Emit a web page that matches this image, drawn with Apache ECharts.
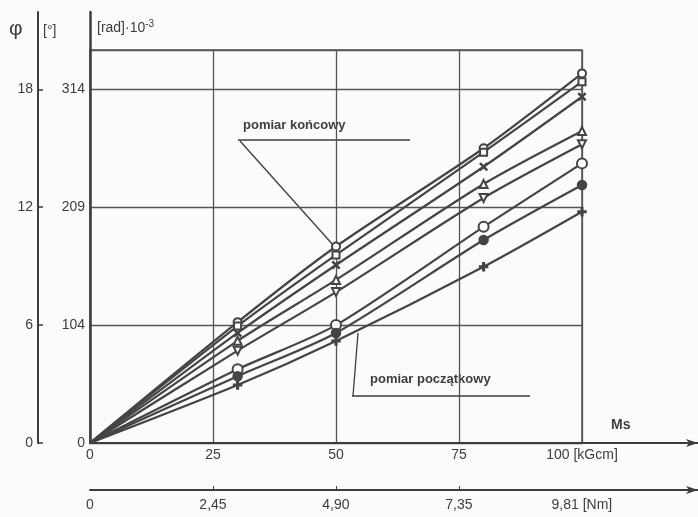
<!DOCTYPE html>
<html>
<head>
<meta charset="utf-8">
<title>pomiar</title>
<script src="https://cdn.jsdelivr.net/npm/echarts@6/dist/echarts.min.js"></script>
<style>
  html, body { margin: 0; padding: 0; background: #fbfbfa; }
  #chart { width: 698px; height: 517px; }
</style>
</head>
<body>
<div id="chart"></div>
<script>
// moment Ms [kGcm] at the measured points
const momentX = [0, 30, 50, 80, 100]

// angle φ [°] for each curve, top to bottom
const curve1 = [0, 6.15, 10.0, 15.0, 18.81]
const curve2 = [0, 5.95, 9.57, 14.8, 18.39]
const curve3 = [0, 5.6, 9.06, 14.06, 17.62]
const curve4 = [0, 5.2, 8.3, 13.18, 15.88]
const curve5 = [0, 4.7, 7.68, 12.47, 15.2]
const curve6 = [0, 3.75, 6.0, 11.0, 14.23]
const curve7 = [0, 3.4, 5.6, 10.33, 13.13]
const curve8 = [0, 2.95, 5.19, 8.97, 11.77]

// tick labels
const xTicks = [0, 25, 50, 75, 100]
const xLabels = ['0', '25', '50', '75', '100 [kGcm]']
const nmLabels = ['0', '2,45', '4,90', '7,35', '9,81 [Nm]']
const degTicks = [0, 6, 12, 18]
const degLabels = ['0', '6', '12', '18']
const radLabels = ['0', '104', '209', '314']

const ink = '#3d3d3d'
const font = 'Liberation Sans'

const xSym = 'path://M1,0L5,4L9,0L10,1L6,5L10,9L9,10L5,6L1,10L0,9L4,5L0,1Z'
const plusSym = 'path://M4,0H6V4H10V6H6V10H4V6H0V4H4Z'

const curves = [
  { data: curve1, symbol: 'emptyCircle', size: 8 },
  { data: curve2, symbol: 'emptyRect', size: 7 },
  { data: curve3, symbol: xSym, size: 7 },
  { data: curve4, symbol: 'emptyTriangle', size: 8 },
  { data: curve5, symbol: 'emptyTriangle', size: 8, rotate: 180 },
  { data: curve6, symbol: 'emptyCircle', size: 10 },
  { data: curve7, symbol: 'circle', size: 9 },
  { data: curve8, symbol: plusSym, size: 8 }
]

const pick = (ticks, labels) => (v) => {
  const i = ticks.indexOf(v)
  return i < 0 ? '' : labels[i]
}

// plain axis line, kept off the zero of the other axis
const bareLine = (width, arrow) => ({
  show: true,
  onZero: false,
  symbol: arrow ? ['none', 'arrow'] : 'none',
  symbolSize: [6, 12],
  lineStyle: { color: ink, width: width }
})

const chart = echarts.init(document.getElementById('chart'))

const option = {
  backgroundColor: '#fbfbfa',
  textStyle: { fontFamily: font, color: ink },
  grid: [
    // plot area with the grid
    { left: 90, right: 116, top: 50, bottom: 74, show: true, borderColor: '#555', borderWidth: 1.5, outerBoundsMode: 'none', containLabel: false },
    // extended axis lines
    { left: 90, right: 0, top: 12, bottom: 74, outerBoundsMode: 'none', containLabel: false }
  ],
  xAxis: [
    {
      type: 'value', gridIndex: 0, min: 0, max: 100, interval: 25, position: 'bottom',
      axisLine: { show: false },
      axisTick: { show: false },
      splitLine: { show: true, lineStyle: { color: '#555', width: 1.3 } },
      axisLabel: {
        customValues: xTicks, formatter: pick(xTicks, xLabels),
        fontSize: 14, color: ink, margin: 5
      }
    },
    {
      type: 'value', gridIndex: 1, min: 0, max: 123.6, position: 'bottom',
      axisLine: bareLine(2, true),
      axisTick: { show: false },
      axisLabel: { show: false },
      splitLine: { show: false }
    },
    {
      type: 'value', gridIndex: 1, min: 0, max: 123.6, position: 'bottom', offset: 47,
      axisLine: bareLine(2, true),
      axisTick: { show: true, inside: true, length: 4, customValues: [25, 50, 75], lineStyle: { color: ink } },
      axisLabel: {
        customValues: xTicks, formatter: pick(xTicks, nmLabels),
        fontSize: 14, color: ink, margin: 8
      },
      splitLine: { show: false }
    }
  ],
  yAxis: [
    {
      // φ [°]
      type: 'value', gridIndex: 0, min: 0, max: 20, interval: 6, position: 'left', offset: 52,
      axisLine: { show: false, onZero: false },
      axisTick: { show: true, inside: true, length: 5, customValues: degTicks, lineStyle: { color: ink, width: 1.5 } },
      axisLabel: {
        customValues: degTicks, formatter: pick(degTicks, degLabels),
        fontSize: 14, color: ink, margin: 5
      },
      splitLine: { show: false }
    },
    {
      // [rad]·10^-3
      type: 'value', gridIndex: 0, min: 0, max: 20, interval: 6, position: 'left', offset: 0,
      axisLine: { show: false, onZero: false },
      axisTick: { show: false },
      axisLabel: {
        customValues: degTicks, formatter: pick(degTicks, radLabels),
        fontSize: 14, color: ink, margin: 5
      },
      splitLine: { show: true, lineStyle: { color: '#555', width: 1.3 } }
    },
    {
      type: 'value', gridIndex: 1, min: 0, max: 21.93, position: 'left', offset: 0,
      axisLine: bareLine(2.5, false),
      axisTick: { show: false }, axisLabel: { show: false }, splitLine: { show: false }
    },
    {
      type: 'value', gridIndex: 1, min: -0.45, max: 21.93, position: 'left', offset: 52,
      axisLine: bareLine(2, false),
      axisTick: { show: false }, axisLabel: { show: false }, splitLine: { show: false }
    }
  ],
  series: curves.map((c) => ({
    type: 'line',
    xAxisIndex: 0,
    yAxisIndex: 0,
    smooth: 0.25,
    symbol: c.symbol,
    symbolSize: c.size,
    symbolRotate: c.rotate || 0,
    lineStyle: { color: '#444', width: 2.2 },
    itemStyle: { color: '#444', borderColor: '#444', borderWidth: 1.5 },
    data: momentX.map((x, i) => (i === 0 ? { value: [x, c.data[i]], symbol: 'none' } : [x, c.data[i]])),
    z: 3
  })),
  graphic: [
    { type: 'text', left: 9, top: 19, style: { text: 'φ', fontSize: 21, fontFamily: font, fill: ink } },
    { type: 'text', left: 43, top: 24, style: { text: '[°]', fontSize: 14, fontFamily: font, fill: ink } },
    {
      type: 'text', left: 97, top: 19,
      style: {
        text: '[rad]·10{s|-3}', fontSize: 14, fontFamily: font, fill: ink,
        rich: { s: { fontSize: 10, verticalAlign: 'top', padding: [0, 0, 8, 0], fill: ink } }
      }
    },
    { type: 'text', left: 611, top: 418, style: { text: 'Ms', fontSize: 14, fontWeight: 'bold', fontFamily: font, fill: ink } },
    { type: 'text', left: 243, top: 119, style: { text: 'pomiar końcowy', fontSize: 13, fontWeight: 'bold', fontFamily: font, fill: ink } },
    { type: 'line', shape: { x1: 238, y1: 140, x2: 410, y2: 140 }, style: { stroke: ink, lineWidth: 1.5 } },
    { type: 'line', shape: { x1: 240, y1: 141, x2: 334, y2: 246 }, style: { stroke: ink, lineWidth: 1.3 } },
    { type: 'text', left: 370, top: 373, style: { text: 'pomiar początkowy', fontSize: 13, fontWeight: 'bold', fontFamily: font, fill: ink } },
    { type: 'line', shape: { x1: 352, y1: 396, x2: 530, y2: 396 }, style: { stroke: ink, lineWidth: 1.5 } },
    { type: 'line', shape: { x1: 353, y1: 396, x2: 358, y2: 333 }, style: { stroke: ink, lineWidth: 1.3 } }
  ]
}

chart.setOption(option)

window.addEventListener('resize', () => chart.resize())
</script>
</body>
</html>
